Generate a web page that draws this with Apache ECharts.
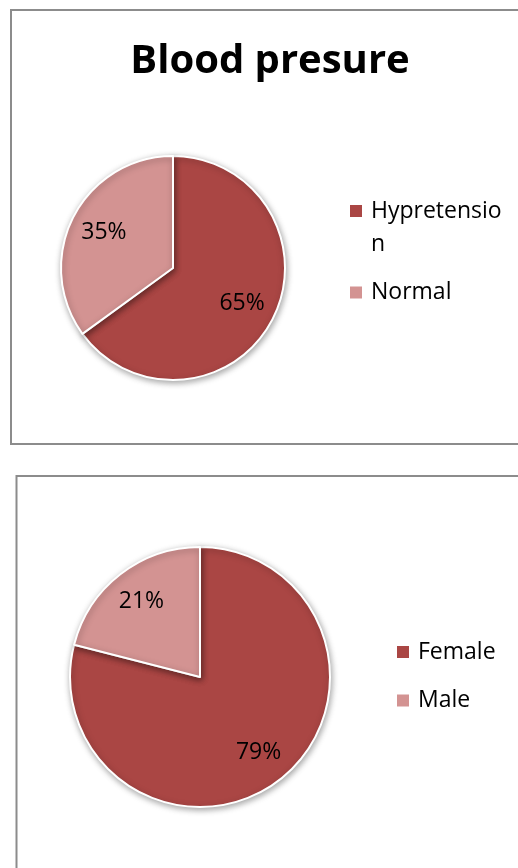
<!DOCTYPE html>
<html>
<head>
<meta charset="utf-8">
<script src="https://cdn.jsdelivr.net/npm/echarts@6/dist/echarts.min.js"></script>
<style>
html,body{margin:0;padding:0;background:#fff;}
#c{width:518px;height:868px;}
</style>
</head>
<body>
<div id="c"></div>
<script>
// Data
const bpTitle = 'Blood presure';
const bpCategories = ['Hypretension', 'Normal'];
const bpValues = [65, 35];
const sexCategories = ['Female', 'Male'];
const sexValues = [79, 21];
const colors = ['#AA4644', '#D39392'];

const FONT = 'Open Sans';

function pieData(cats, vals) {
  return cats.map((c, i) => ({ name: c, value: vals[i], itemStyle: { color: colors[i] } }));
}

function visiblePie(cats, vals, center, r) {
  return {
    type: 'pie',
    center: center,
    radius: [0, r],
    startAngle: 90,
    clockwise: true,
    animation: false,
    silent: true,
    label: { show: false },
    labelLine: { show: false },
    itemStyle: {
      borderColor: '#ffffff',
      borderWidth: 2,
      shadowBlur: 6,
      shadowColor: 'rgba(0,0,0,0.35)',
      shadowOffsetX: 1,
      shadowOffsetY: 2
    },
    data: pieData(cats, vals)
  };
}

function labelPie(cats, vals, center, r) {
  return {
    type: 'pie',
    center: center,
    radius: [0, r],
    startAngle: 90,
    clockwise: true,
    animation: false,
    silent: true,
    legendHoverLink: false,
    itemStyle: { color: 'rgba(0,0,0,0)', borderWidth: 0 },
    label: {
      show: true,
      position: 'inside',
      formatter: '{d}%',
      color: '#000',
      fontFamily: FONT,
      fontSize: 23
    },
    labelLine: { show: false },
    data: cats.map((c, i) => ({ name: c, value: vals[i] }))
  };
}

const legendText = {
  color: '#000',
  fontFamily: FONT,
  fontSize: 23,
  lineHeight: 33,
  padding: [0, 0, 0, 4],
  width: 136,
  overflow: 'breakAll'
};

// when a legend name wraps, keep the icon aligned with its first line
function legendFormatter(name) {
  return name === bpCategories[0] ? '\n' + name : name;
}

const chart = echarts.init(document.getElementById('c'), null, { renderer: 'canvas' });
chart.setOption({
  backgroundColor: '#ffffff',
  animation: false,
  title: {
    text: bpTitle,
    left: 270,
    top: 42,
    textAlign: 'center',
    padding: 0,
    textStyle: { fontFamily: FONT, fontWeight: 'bold', fontSize: 40, color: '#000' }
  },
  graphic: [
    { type: 'rect', shape: { x: 11, y: 10, width: 520, height: 434 },
      style: { fill: 'none', stroke: '#8c8c8c', lineWidth: 2 }, silent: true },
    { type: 'rect', shape: { x: 16.5, y: 476, width: 520, height: 420 },
      style: { fill: 'none', stroke: '#8c8c8c', lineWidth: 2 }, silent: true }
  ],
  legend: [
    {
      orient: 'vertical',
      left: 350,
      top: 161.5,
      padding: 0,
      itemWidth: 12,
      itemHeight: 12,
      itemGap: 15.5,
      icon: 'rect',
      selectedMode: false,
      itemStyle: { borderWidth: 0, shadowBlur: 0 },
      formatter: legendFormatter,
      textStyle: legendText,
      data: bpCategories
    },
    {
      orient: 'vertical',
      left: 397,
      top: 635.5,
      padding: 0,
      itemWidth: 12,
      itemHeight: 12,
      itemGap: 15.5,
      icon: 'rect',
      selectedMode: false,
      itemStyle: { borderWidth: 0, shadowBlur: 0 },
      textStyle: legendText,
      data: sexCategories
    }
  ],
  series: [
    visiblePie(bpCategories, bpValues, [173, 268], 112),
    visiblePie(sexCategories, sexValues, [200, 677], 130),
    labelPie(bpCategories, bpValues, [173, 268], 149),
    labelPie(sexCategories, sexValues, [200, 677], 185)
  ]
});
</script>
</body>
</html>
